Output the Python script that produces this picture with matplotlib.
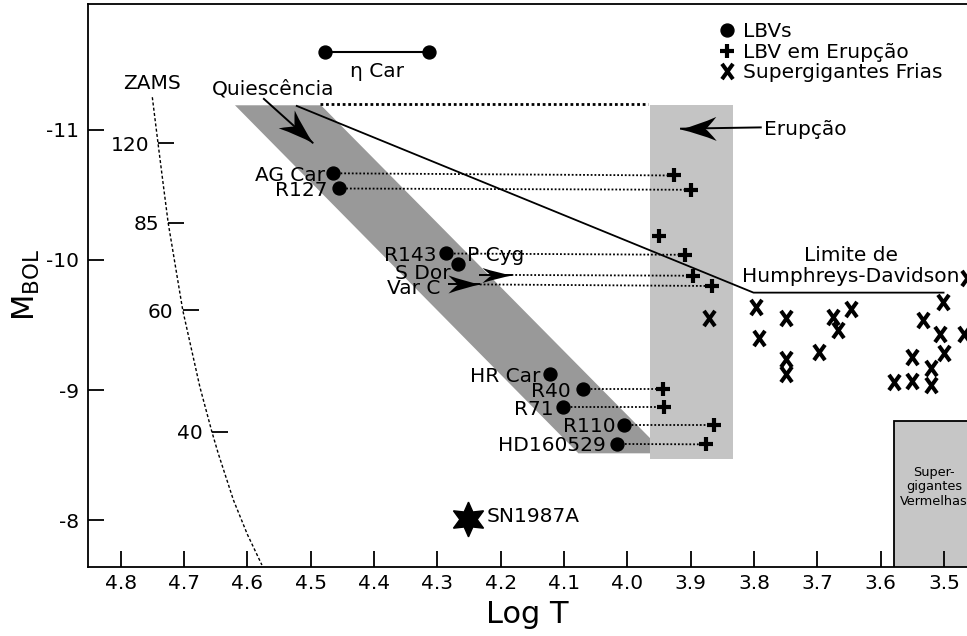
import numpy as np
import matplotlib
matplotlib.use('Agg')
import matplotlib.pyplot as plt
from matplotlib.path import Path
from matplotlib.markers import MarkerStyle
from matplotlib.transforms import Affine2D
from matplotlib.patches import Polygon, Rectangle
from matplotlib.lines import Line2D

plt.rcParams['font.family'] = ['DejaVu Sans']
plt.rcParams['axes.unicode_minus'] = False

# ---------------- data ----------------
lbv_names = ['AG Car', 'R127', 'R143', 'S Dor', 'HR Car', 'R40', 'R71', 'R110', 'HD160529']
lbv_logt = [4.465, 4.456, 4.286, 4.268, 4.123, 4.070, 4.102, 4.005, 4.016]
lbv_mbol = [-10.667, -10.55, -10.05, -9.967, -9.12, -9.005, -8.867, -8.731, -8.585]

eruption_logt = [3.926, 3.899, 3.950, 3.909, 3.897, 3.867, 3.944, 3.943, 3.864, 3.876]
eruption_mbol = [-10.65, -10.54, -10.185, -10.04, -9.879, -9.80, -9.005, -8.867, -8.731, -8.582]

# (lbv index, eruption index) pairs joined by dotted lines
pairs = [(0, 0), (1, 1), (2, 3), (5, 6), (6, 7), (7, 8), (8, 9)]

csg_logt = [3.871, 3.797, 3.793, 3.750, 3.750, 3.750, 3.698, 3.676, 3.667, 3.647,
            3.580, 3.551, 3.551, 3.533, 3.521, 3.521, 3.502, 3.506, 3.500, 3.469, 3.464]
csg_mbol = [-9.551, -9.641, -9.402, -9.551, -9.238, -9.123, -9.295, -9.559, -9.462, -9.623,
            -9.064, -9.256, -9.072, -9.538, -9.167, -9.038, -9.679, -9.431, -9.282, -9.431, -9.859]

eta_logt = [4.477, 4.313]
eta_mbol = [-11.60, -11.60]

sn_logt = [4.251]
sn_mbol = [-8.008]

zams_logt = [4.750, 4.741, 4.733, 4.725, 4.702, 4.675, 4.656, 4.646, 4.622, 4.600, 4.577]
zams_mbol = [-11.252, -10.898, -10.590, -10.287, -9.615, -9.025, -8.679, -8.513, -8.154, -7.890, -7.654]
zams_mass = ['120', '85', '60', '40']
zams_mass_logt = [4.741, 4.725, 4.702, 4.656]
zams_mass_mbol = [-10.898, -10.287, -9.615, -8.679]

hd_logt = [4.522, 3.801, 3.501]
hd_mbol = [-11.185, -9.749, -9.749]

top_dotted_logt = [4.485, 3.967]
top_dotted_mbol = [-11.2, -11.2]

quiescence_band_logt = [4.6195, 4.4837, 3.9406, 4.0774]
quiescence_band_mbol = [-11.19, -11.19, -8.513, -8.513]

eruption_band_logt = [3.965, 3.834]
eruption_band_mbol = [-11.19, -8.467]

rsg_box_logt = [3.580, 3.30]
rsg_box_mbol = [-8.764, -7.0]

# arrows: (tail logT, tail Mbol, tip logT, tip Mbol)
arrow_quiescence = (4.575, -11.244, 4.496, -10.898)
arrow_eruption = (3.788, -11.02, 3.917, -11.01)
arrow_sdor = (4.235, -9.885, 4.183, -9.885)
arrow_varc = (4.283, -9.812, 4.233, -9.812)

x_ticks = [4.8, 4.7, 4.6, 4.5, 4.4, 4.3, 4.2, 4.1, 4.0, 3.9, 3.8, 3.7, 3.6, 3.5]
x_ticklabels = ['4.8', '4.7', '4.6', '4.5', '4.4', '4.3', '4.2', '4.1', '4.0',
                '3.9', '3.8', '3.7', '3.6', '3.5']
y_ticks = [-11, -10, -9, -8]
y_ticklabels = ['-11', '-10', '-9', '-8']

FS = 14.5

# ---------------- figure ----------------
W, H = 967, 636
fig = plt.figure(figsize=(W / 100, H / 100), dpi=100)
ax_l, ax_r, ax_b, ax_t = 87.7, 967.0, 566.7, 4.0
ax = fig.add_axes([ax_l / W, (H - ax_b) / H, (ax_r - ax_l) / W, (ax_b - ax_t) / H])
ax.set_xlim(4.852, 3.464)
ax.set_ylim(-7.641, -11.969)

for s in ['left', 'bottom', 'top']:
    ax.spines[s].set_linewidth(1.3)
ax.spines['right'].set_visible(False)

ax.set_xticks(x_ticks)
ax.set_xticklabels(x_ticklabels)
ax.set_yticks(y_ticks)
ax.set_yticklabels(y_ticklabels)
ax.tick_params(direction='in', length=11.5, width=1.3, labelsize=FS,
               top=False, right=False)
ax.tick_params(axis='x', pad=5.3)
ax.tick_params(axis='y', pad=6.5)

ax.set_xlabel('Log T', fontsize=22, labelpad=5)
ax.set_ylabel(r'$\mathregular{M_{BOL}}$', fontsize=22)
ax.yaxis.set_label_coords(-0.052, 0.5)

# bands
ax.add_patch(Polygon(list(zip(quiescence_band_logt, quiescence_band_mbol)), closed=True,
                     facecolor='#999999', edgecolor='none', zorder=1))
ax.add_patch(Rectangle((eruption_band_logt[0], eruption_band_mbol[0]),
                       eruption_band_logt[1] - eruption_band_logt[0],
                       eruption_band_mbol[1] - eruption_band_mbol[0],
                       facecolor='#c4c4c4', edgecolor='none', zorder=1.5))
ax.add_patch(Rectangle((rsg_box_logt[0], rsg_box_mbol[0]),
                       rsg_box_logt[1] - rsg_box_logt[0],
                       rsg_box_mbol[1] - rsg_box_mbol[0],
                       facecolor='#c6c6c6', edgecolor='black', lw=1.3, zorder=1.5))
ax.text(3.516, -8.256, 'Super-\ngigantes\nVermelhas', fontsize=9.3, ha='center', va='center',
        linespacing=1.15, zorder=3)

# ZAMS
ax.plot(zams_logt, zams_mbol, color='black', lw=1.0, dashes=(2.2, 1.6), zorder=2)
tick_marker = MarkerStyle(Path([(0, 0), (1, 0)], [Path.MOVETO, Path.LINETO]))
ax.plot(zams_mass_logt, zams_mass_mbol, ls='none', marker=tick_marker, ms=23,
        mec='black', mew=1.3, zorder=2)
for m, x, y in zip(zams_mass, zams_mass_logt, zams_mass_mbol):
    ax.annotate(m, (x, y), xytext=(-6.5, 0), textcoords='offset points', ha='right',
                va='center_baseline', fontsize=FS)
ax.text(4.751, -11.372, 'ZAMS', fontsize=FS, ha='center', va='center_baseline')

# top dotted line
ax.plot(top_dotted_logt, top_dotted_mbol, color='black', lw=2.0, dashes=(1, 1), zorder=2)

# dotted connectors
for i, j in pairs:
    ax.plot([lbv_logt[i], eruption_logt[j]], [lbv_mbol[i], eruption_mbol[j]],
            color='black', lw=1.3, dashes=(1, 1.1), zorder=2)
for arr, j in [(arrow_sdor, 4), (arrow_varc, 5)]:
    ax.plot([arr[2], eruption_logt[j]], [arr[3], eruption_mbol[j]],
            color='black', lw=1.3, dashes=(1, 1.1), zorder=2)

# HD limit
ax.plot(hd_logt, hd_mbol, color='black', lw=1.3, zorder=2.5)
ax.text(3.647, -9.956, 'Limite de\nHumphreys-Davidson', fontsize=FS, ha='center',
        va='center', linespacing=1.15, zorder=3)


def draw_arrow(arr, head_len, head_w, lw=1.4):
    x0, y0, x1, y1 = arr
    p0 = ax.transData.transform((x0, y0))
    p1 = ax.transData.transform((x1, y1))
    ang = np.degrees(np.arctan2(p1[1] - p0[1], p1[0] - p0[0]))
    L, Wd = head_len, head_w
    verts = [(0, 0),
             (-0.5 * L, 0.18 * Wd), (-L, Wd / 2),
             (-0.8 * L, 0.12 * Wd), (-0.7 * L, 0),
             (-0.8 * L, -0.12 * Wd), (-L, -Wd / 2),
             (-0.5 * L, -0.18 * Wd), (0, 0)]
    codes = [Path.MOVETO,
             Path.CURVE3, Path.CURVE3,
             Path.CURVE3, Path.CURVE3,
             Path.CURVE3, Path.CURVE3,
             Path.CURVE3, Path.CURVE3]
    head = MarkerStyle(Path(verts, codes), transform=Affine2D().rotate_deg(ang))
    ax.plot([x0, x1], [y0, y1], color='black', lw=lw, solid_capstyle='butt', zorder=4)
    ax.plot([x1], [y1], marker=head, ms=2 * L * 0.72, color='black', mew=0, zorder=4)


draw_arrow(arrow_quiescence, 36, 24)
draw_arrow(arrow_eruption, 36, 24)
draw_arrow(arrow_sdor, 30, 15)
draw_arrow(arrow_varc, 32, 18)

ax.text(4.56, -11.328, 'Quiescência', fontsize=FS, ha='center', va='center_baseline')
ax.text(3.784, -11.017, 'Erupção', fontsize=FS, ha='left', va='center_baseline')

# eta Car
ax.plot(eta_logt, eta_mbol, color='black', lw=1.5, marker='o', ms=9.3, zorder=4)
ax.text(np.mean(eta_logt), -11.467, 'η Car', fontsize=FS, ha='center', va='center_baseline')

# markers
x_marker = MarkerStyle(Path([(-0.36, -0.5), (0.36, 0.5), (-0.36, 0.5), (0.36, -0.5)],
                            [Path.MOVETO, Path.LINETO, Path.MOVETO, Path.LINETO]))
ax.plot(lbv_logt, lbv_mbol, ls='none', marker='o', ms=9.3, color='black', zorder=5)
ax.plot(eruption_logt, eruption_mbol, ls='none', marker='+', ms=10.5, mew=3.0,
        color='black', zorder=5)
ax.plot(csg_logt, csg_mbol, ls='none', marker=x_marker, ms=11, mew=2.9,
        color='black', zorder=5)
ax.plot(sn_logt, sn_mbol, ls='none', marker=(6, 1, 0), ms=25, color='black', zorder=5)
ax.annotate('SN1987A', (sn_logt[0], sn_mbol[0]), xytext=(13, 3), textcoords='offset points',
            ha='left', va='center_baseline', fontsize=FS)

# LBV labels
label_offsets = [(-5.5, 0), (-8.3, 0), (-6.7, 0), (-5.3, -5.3), (-6.7, 0),
                 (-9.1, 0), (-6.3, 0), (-6.5, 0), (-8.1, 0)]
for name, x, y, off in zip(lbv_names, lbv_logt, lbv_mbol, label_offsets):
    ax.annotate(name, (x, y), xytext=off, textcoords='offset points', ha='right',
                va='center_baseline', fontsize=FS, zorder=6)
ax.text(4.254, -10.05, 'P Cyg', fontsize=FS, ha='left', va='center_baseline', zorder=6)
ax.text(4.296, -9.795, 'Var C', fontsize=FS, ha='right', va='center_baseline', zorder=6)

# legend
handles = [Line2D([], [], ls='none', marker='o', ms=9.3, color='black'),
           Line2D([], [], ls='none', marker='+', ms=10.5, mew=3.0, color='black'),
           Line2D([], [], ls='none', marker=x_marker, ms=11, mew=2.9, color='black')]
labels = ['LBVs', 'LBV em Erupção', 'Supergigantes Frias']
ax.legend(handles, labels, loc='upper left', bbox_to_anchor=(0.7178, 0.968),
          frameon=False, fontsize=FS, handlelength=0.8, handletextpad=0.42,
          labelspacing=0.08, borderpad=0, borderaxespad=0)

fig.savefig('out.png', dpi=100)
